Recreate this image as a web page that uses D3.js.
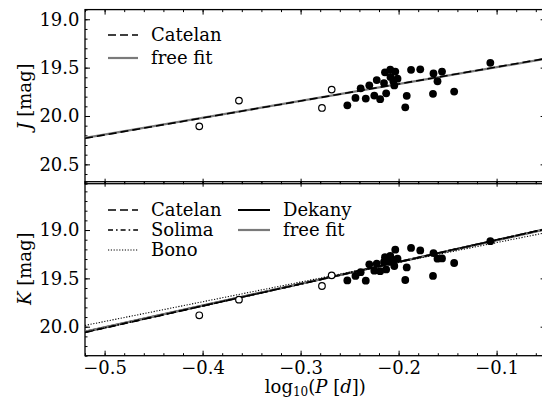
<!DOCTYPE html>
<html>
<head>
<meta charset="utf-8">
<script src="https://cdn.jsdelivr.net/npm/d3@7"></script>
<style>
  body { margin: 0; background: #fff; }
  svg text { font-family: "DejaVu Serif", serif; font-size: 18px; fill: #000; }
</style>
</head>
<body>
<svg id="chart" width="542" height="400"></svg>
<script>
// filled stars: log10 P, J, K
var logP = [-0.2523,-0.2440,-0.2387,-0.2335,-0.2299,-0.2248,-0.2223,-0.2188,-0.2149,-0.2127,
            -0.2139,-0.2085,-0.2083,-0.2054,-0.2044,-0.2034,-0.2011,-0.1932,-0.1917,-0.1873,
            -0.1779,-0.1649,-0.1644,-0.1603,-0.1557,-0.1433,-0.1064];
var Jmag = [19.890,19.813,19.714,19.820,19.683,19.789,19.629,19.826,19.660,19.766,
            19.548,19.520,19.596,19.641,19.684,19.541,19.614,19.910,19.791,19.523,
            19.518,19.771,19.560,19.641,19.541,19.748,19.450];
var Kmag = [19.521,19.475,19.436,19.524,19.355,19.420,19.348,19.426,19.330,19.407,
            19.281,19.268,19.330,19.310,19.372,19.203,19.296,19.517,19.387,19.185,
            19.211,19.475,19.239,19.296,19.294,19.341,19.115];
// open symbols
var logPopen = [-0.4034,-0.3629,-0.2782,-0.2683];
var Jopen = [20.107,19.841,19.917,19.727];
var Kopen = [19.882,19.720,19.579,19.469];

// relations: mag = a + b*logP
var relJ = [
  {name:'Catelan', a:19.318, b:-1.755},
  {name:'free fit', a:19.322, b:-1.741}
];
var relK = [
  {name:'Catelan', a:18.874, b:-2.28},
  {name:'Solima', a:18.877, b:-2.27},
  {name:'Bono', a:18.926, b:-2.04},
  {name:'Dekany', a:18.878, b:-2.26},
  {name:'free fit', a:18.881, b:-2.25}
];

var xTicks = [-0.5,-0.4,-0.3,-0.2,-0.1];
var yTicksJ = [19.0,19.5,20.0,20.5];
var yTicksK = [19.0,19.5,20.0];

var styles = {
  'Catelan': {stroke:'#000', w:1.6, dash:'8,4'},
  'Solima': {stroke:'#000', w:1.6, dash:'5,3,1.6,3'},
  'Bono': {stroke:'#000', w:1.1, dash:'1.2,1.6'},
  'Dekany': {stroke:'#000', w:2, dash:null},
  'free fit': {stroke:'#7a7a7a', w:2.2, dash:null}
};

var svg = d3.select('#chart');
var L = 85, R = 545.6;
var x = d3.scaleLinear().domain([-0.52,-0.05]).range([L,R]);
var minorX = d3.range(-0.52,-0.049,0.02).map(function(v){return +v.toFixed(2);});

function panel(cfg){
  var y = d3.scaleLinear().domain(cfg.dom).range(cfg.rng);
  var g = svg.append('g');
  var top = cfg.rng[0], bot = cfg.rng[1];

  g.append('clipPath').attr('id','clip'+cfg.id)
    .append('rect').attr('x',L).attr('y',top).attr('width',R-L).attr('height',bot-top);

  var minorY = d3.range(cfg.dom[0],cfg.dom[1]+0.001,0.1).map(function(v){return +v.toFixed(1);});

  // minor ticks
  g.append('g').attr('transform','translate(0,'+bot+')')
    .call(d3.axisBottom(x).tickValues(minorX).tickSize(-2.5).tickFormat(''));
  g.append('g').attr('transform','translate(0,'+top+')')
    .call(d3.axisTop(x).tickValues(minorX).tickSize(-2.5).tickFormat(''));
  g.append('g').attr('transform','translate('+L+',0)')
    .call(d3.axisLeft(y).tickValues(minorY).tickSize(-2.5).tickFormat(''));
  g.append('g').attr('transform','translate('+R+',0)')
    .call(d3.axisRight(y).tickValues(minorY).tickSize(-2.5).tickFormat(''));

  // major ticks
  var fmtX = function(d){ return d3.format('.1f')(d).replace('-','\u2212'); };
  g.append('g').attr('class','xb').attr('transform','translate(0,'+bot+')')
    .call(d3.axisBottom(x).tickValues(xTicks).tickSize(-5).tickPadding(5.5)
      .tickFormat(cfg.xlabels ? fmtX : ''));
  g.append('g').attr('transform','translate(0,'+top+')')
    .call(d3.axisTop(x).tickValues(xTicks).tickSize(-5).tickFormat(''));
  g.append('g').attr('transform','translate('+L+',0)')
    .call(d3.axisLeft(y).tickValues(cfg.yticks).tickSize(-5).tickPadding(5.5)
      .tickFormat(d3.format('.1f')));
  g.append('g').attr('transform','translate('+R+',0)')
    .call(d3.axisRight(y).tickValues(cfg.yticks).tickSize(-5).tickFormat(''));

  g.selectAll('.domain').remove();
  g.selectAll('.tick line').attr('stroke','#000').attr('stroke-width',1);
  g.selectAll('.tick text').attr('font-family','DejaVu Serif').attr('font-size',18).attr('fill','#000');

  // frame
  g.append('rect').attr('x',L).attr('y',top).attr('width',R-L).attr('height',bot-top)
    .attr('fill','none').attr('stroke','#000').attr('stroke-width',1.3);

  // relation lines
  var lines = g.append('g').attr('clip-path','url(#clip'+cfg.id+')');
  var order = cfg.rel.slice().sort(function(a,b){
    var k = {'Dekany':0,'free fit':1,'Catelan':2,'Solima':3,'Bono':4};
    return k[a.name]-k[b.name];
  });
  order.forEach(function(r){
    var s = styles[r.name];
    var xs = x.domain();
    lines.append('line')
      .attr('x1',x(xs[0])).attr('y1',y(r.a+r.b*xs[0]))
      .attr('x2',x(xs[1])).attr('y2',y(r.a+r.b*xs[1]))
      .attr('stroke',s.stroke).attr('stroke-width',s.w)
      .attr('stroke-dasharray',s.dash);
  });

  // points
  var pts = g.append('g').attr('clip-path','url(#clip'+cfg.id+')');
  pts.selectAll('circle.f').data(logP).enter().append('circle')
    .attr('cx',function(d){return x(d);})
    .attr('cy',function(d,i){return y(cfg.mag[i]);})
    .attr('r',3.9).attr('fill','#000');
  pts.selectAll('circle.o').data(logPopen).enter().append('circle')
    .attr('cx',function(d){return x(d);})
    .attr('cy',function(d,i){return y(cfg.open[i]);})
    .attr('r',3.3).attr('fill','#fff').attr('stroke','#000').attr('stroke-width',1.2);

  // y label
  var cy = (top+bot)/2;
  var t = g.append('text').attr('transform','translate(31,'+cy+') rotate(-90)')
    .attr('text-anchor','middle');
  t.append('tspan').attr('font-style','italic').text(cfg.ylab);
  t.append('tspan').text(' [mag]');

  // legend
  cfg.legend.forEach(function(e){
    var s = styles[e.name];
    g.append('line').attr('x1',e.x).attr('x2',e.x+e.len).attr('y1',e.y).attr('y2',e.y)
      .attr('stroke',s.stroke).attr('stroke-width',s.w).attr('stroke-dasharray',s.dash);
    g.append('text').attr('x',e.x+e.len+13).attr('y',e.y).attr('dy','0.36em').text(e.name);
  });
  return y;
}

panel({id:'J', dom:[18.9,20.7], rng:[9.6,183.7], yticks:yTicksJ, rel:relJ,
  mag:Jmag, open:Jopen, ylab:'J', xlabels:false,
  legend:[{name:'Catelan',x:108,y:35,len:30},{name:'free fit',x:108,y:58,len:30}]});

panel({id:'K', dom:[18.5,20.3], rng:[181.7,355.7], yticks:yTicksK, rel:relK,
  mag:Kmag, open:Kopen, ylab:'K', xlabels:true,
  legend:[{name:'Catelan',x:108,y:210,len:30},{name:'Solima',x:108,y:230,len:30},
          {name:'Bono',x:108,y:250,len:30},
          {name:'Dekany',x:238,y:210,len:32},{name:'free fit',x:238,y:230,len:32}]});

// x label
var xl = svg.append('text').attr('x',(L+R)/2).attr('y',393).attr('text-anchor','middle');
xl.append('tspan').text('log');
xl.append('tspan').attr('font-size',12).attr('dy',3).text('10');
xl.append('tspan').attr('dy',-3).text('(');
xl.append('tspan').attr('font-style','italic').text('P');
xl.append('tspan').text(' [');
xl.append('tspan').attr('font-style','italic').text('d');
xl.append('tspan').text('])');
</script>
</body>
</html>
